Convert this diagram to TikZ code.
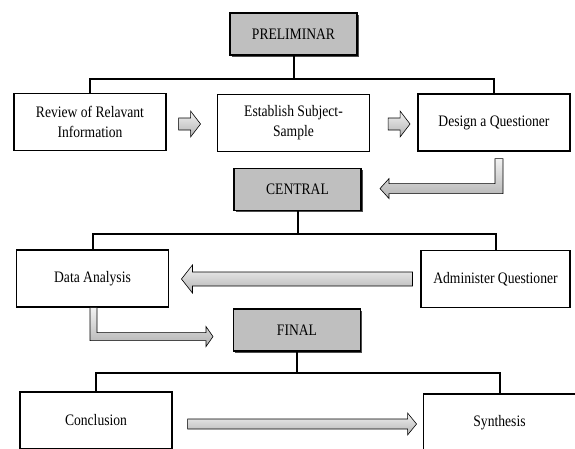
\documentclass[tikz,border=0pt]{standalone}
\usepackage{fontspec}
\setmainfont{Liberation Serif}[FakeStretch=0.85]
\usetikzlibrary{positioning}
\usetikzlibrary{shadows}
\usetikzlibrary{calc}
\tikzset{
	stagebox/.style={draw, line width=1.5pt, fill=gray!50, inner sep=0pt,
		minimum width=127pt, minimum height=42pt,
		drop shadow={shadow xshift=1.5pt, shadow yshift=-1.5pt, fill=black!70, opacity=1}},
	stepbox/.style={draw, line width=1.1pt, fill=white, inner sep=0pt, align=center,
		minimum width=152pt, minimum height=57pt},
	link/.style={line width=2pt},
	fatarrow/.style={draw, line width=0.6pt, top color=gray!10, bottom color=gray!60},
}

\begin{document}
\begin{tikzpicture}[x=1pt, y=-1pt, font=\fontsize{16}{20}\selectfont]
	\useasboundingbox (0,0) rectangle (575,448);
	% first stage
	\node[stagebox] (pre) at (293.5,34) {PRELIMINAR};
	\node[stepbox] (review) at (90,122) {Review of Relavant\\Information};
	\node[stepbox] (establish) at (293.5,123) {Establish Subject-\\Sample};
	\node[stepbox] (design) at (494,122.5) {Design a Questioner};
	\coordinate (prebus) at ($(pre.south)+(0,23)$);
	\draw[link] (pre.south) -- (prebus);
	\draw[link] (review.north) |- (prebus) -| (design.north);
	\draw[fatarrow] ($(review.east)+(12,-4)$) -- ++(12,0) -- ++(0,-7) -- ++(10,13) -- ++(-10,13) -- ++(0,-7) -- ++(-12,0) -- cycle;
	\draw[fatarrow] ($(establish.east)+(18,-5)$) -- ++(12,0) -- ++(0,-7) -- ++(10,13) -- ++(-10,13) -- ++(0,-7) -- ++(-12,0) -- cycle;
	% second stage
	\node[stagebox] (central) at (297.5,189.5) {CENTRAL};
	\draw[fatarrow] ($(design.south)+(1,7)$) -- ++(8,0) -- ++(0,35) -- ++(-114,0) -- ++(0,5) -- ++(-9,-10) -- ++(9,-10) -- ++(0,5) -- ++(106,0) -- cycle;
	\node[stepbox] (data) at (92.5,278.5) {Data Analysis};
	\node[stepbox, minimum width=149pt] (admin) at (495.5,279) {Administer Questioner};
	\coordinate (centralbus) at ($(central.south)+(0,23)$);
	\draw[link] (central.south) -- (centralbus);
	\draw[link] (data.north) |- (centralbus) -| (admin.north);
	\draw[fatarrow] ($(admin.west)+(-8,-7)$) -- ++(-220,0) -- ++(0,-7) -- ++(-11,14) -- ++(11,14) -- ++(0,-7) -- ++(220,0) -- cycle;
	% third stage
	\draw[fatarrow] ($(data.south)+(-2.5,0)$) -- ++(7,0) -- ++(0,25) -- ++(109,0) -- ++(0,-6) -- ++(7,10) -- ++(-7,10) -- ++(0,-6) -- ++(-116,0) -- cycle;
	\node[stagebox] (final) at (297,330) {FINAL};
	\node[stepbox] (concl) at (96,420.5) {Conclusion};
	\node[stepbox] (synth) at (499.5,422.5) {Synthesis};
	\coordinate (finalbus) at ($(final.south)+(0,21)$);
	\draw[link] (final.south) -- (finalbus);
	\draw[link] (concl.north) |- (finalbus) -| (synth.north);
	\draw[fatarrow] ($(concl.east)+(15,-1.5)$) -- ++(220,0) -- ++(0,-6) -- ++(9,11) -- ++(-9,11) -- ++(0,-6) -- ++(-220,0) -- cycle;
\end{tikzpicture}
\end{document}
